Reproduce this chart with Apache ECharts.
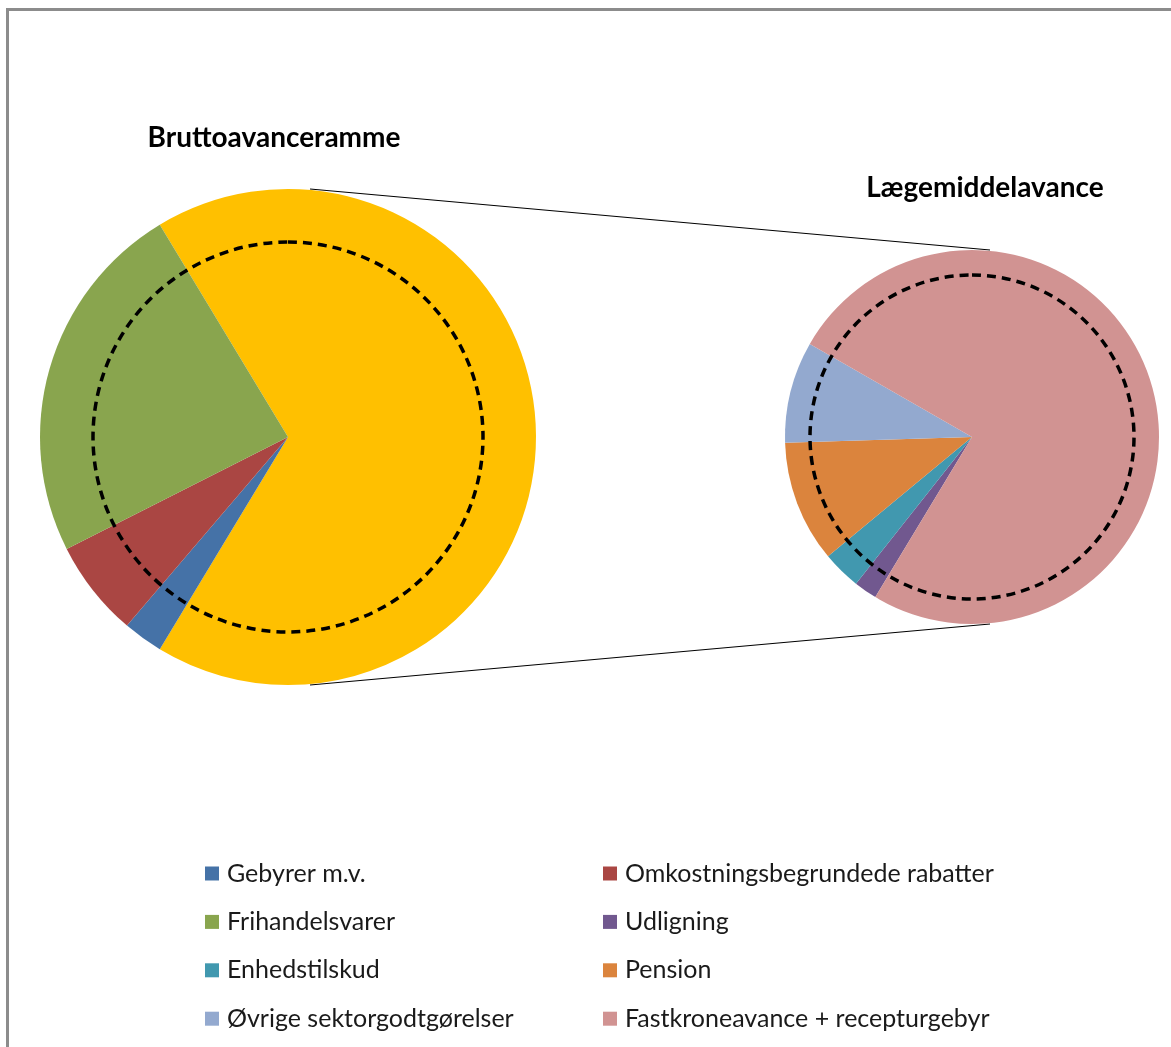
<!DOCTYPE html>
<html>
<head>
<meta charset="utf-8">
<script src="https://cdn.jsdelivr.net/npm/echarts@6/dist/echarts.min.js"></script>
<style>
html,body{margin:0;padding:0;background:#fff;}
#chart{width:1171px;height:1047px;}
</style>
</head>
<body>
<div id="chart"></div>
<script>
// ---- Data (share of Bruttoavanceramme, %) ----
const primaryNames = ['Gebyrer m.v.', 'Omkostningsbegrundede rabatter', 'Frihandelsvarer'];
const primaryValues = [2.6, 6.3, 23.8];
const secondaryNames = ['Udligning', 'Enhedstilskud', 'Pension', 'Øvrige sektorgodtgørelser', 'Fastkroneavance + recepturgebyr'];
const secondaryValues = [1.35, 2.24, 7.08, 5.91, 50.7];
const otherName = 'Lægemiddelavance';
const titleLeft = 'Bruttoavanceramme';
const titleRight = 'Lægemiddelavance';

const primaryColors = ['#4572A7', '#AA4643', '#89A54E'];
const secondaryColors = ['#71588F', '#4198AF', '#DB843D', '#93A9CF', '#D19392'];
const otherColor = '#FFC000';

// ---- Layout ----
const C1 = [288, 437], R1 = 248, D1 = 195;
const C2 = [972, 437], R2 = 187, D2 = 162;
const FONT = 'Lato, "Open Sans", sans-serif';

const otherValue = secondaryValues.reduce((a, b) => a + b, 0);
const total = otherValue + primaryValues.reduce((a, b) => a + b, 0);
const start1 = 360 * (otherValue / total) / 2;   // "other" slice centred at 3 o'clock
const start2 = -start1;

const primaryData = [{ name: otherName, value: otherValue, itemStyle: { color: otherColor } }]
  .concat(primaryNames.map((n, i) => ({ name: n, value: primaryValues[i], itemStyle: { color: primaryColors[i] } })));
const secondaryData = secondaryNames.map((n, i) => ({ name: n, value: secondaryValues[i], itemStyle: { color: secondaryColors[i] } }));

function dashed(center, r) {
  return {
    type: 'pie', center: center, radius: [0, r], silent: true, z: 5,
    label: { show: false }, labelLine: { show: false }, emphasis: { disabled: true },
    data: [{ name: '_ring', value: 1, itemStyle: { color: 'rgba(0,0,0,0)', borderColor: '#000', borderWidth: 3.5, borderType: [9, 6] } }]
  };
}

const chart = echarts.init(document.getElementById('chart'));
const legendText = { fontFamily: FONT, fontSize: 25, color: '#1a1a1a', lineHeight: 24, padding: [0, 0, 0, 3] };
chart.setOption({
  animation: false,
  backgroundColor: '#fff',
  title: [
    { text: titleLeft, left: 269, top: 119, textAlign: 'center', textStyle: { fontFamily: FONT, fontWeight: 'bold', fontSize: 28, color: '#000' } },
    { text: titleRight, left: 980, top: 169, textAlign: 'center', textStyle: { fontFamily: FONT, fontWeight: 'bold', fontSize: 28, color: '#000' } }
  ],
  legend: [
    { data: [primaryNames[0], primaryNames[2], secondaryNames[1], secondaryNames[3]], orient: 'vertical', left: 205, top: 861, padding: 0,
      itemWidth: 14, itemHeight: 14, itemGap: 23.4, icon: 'rect', textStyle: legendText, selectedMode: false },
    { data: [primaryNames[1], secondaryNames[0], secondaryNames[2], secondaryNames[4]], orient: 'vertical', left: 603, top: 861, padding: 0,
      itemWidth: 14, itemHeight: 14, itemGap: 23.4, icon: 'rect', textStyle: legendText, selectedMode: false }
  ],
  graphic: [
    { type: 'rect', shape: { x: 7.5, y: 9.5, width: 3000, height: 3000 }, style: { fill: 'none', stroke: '#8c8c8c', lineWidth: 3 }, silent: true },
    { type: 'line', shape: { x1: C1[0] + 22, y1: C1[1] - R1, x2: C2[0] + 18, y2: C2[1] - R2 }, style: { stroke: '#000', lineWidth: 1.2 }, silent: true },
    { type: 'line', shape: { x1: C1[0] + 22, y1: C1[1] + R1, x2: C2[0] + 18, y2: C2[1] + R2 }, style: { stroke: '#000', lineWidth: 1.2 }, silent: true }
  ],
  series: [
    { type: 'pie', center: C1, radius: [0, R1], startAngle: start1, clockwise: true, silent: true,
      label: { show: false }, labelLine: { show: false }, itemStyle: { borderWidth: 0 }, data: primaryData },
    { type: 'pie', center: C2, radius: [0, R2], startAngle: start2, clockwise: true, silent: true,
      label: { show: false }, labelLine: { show: false }, itemStyle: { borderWidth: 0 }, data: secondaryData },
    dashed(C1, D1),
    dashed(C2, D2)
  ]
});
</script>
</body>
</html>
